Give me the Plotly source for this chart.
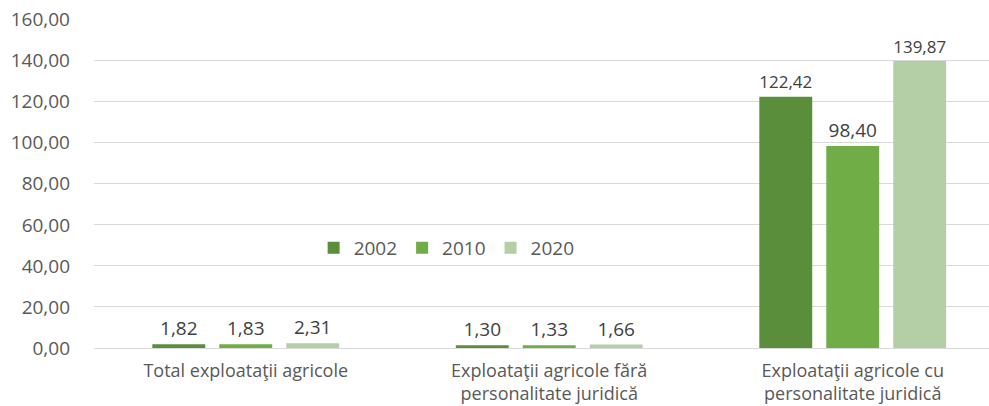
import plotly.graph_objects as go

categories = ["Total exploataţii agricole",
              "Exploataţii agricole fără<br>personalitate juridică",
              "Exploataţii agricole cu<br>personalitate juridică"]
series_names = ["2002", "2010", "2020"]
values_2002 = [1.82, 1.30, 122.42]
values_2010 = [1.83, 1.33, 98.40]
values_2020 = [2.31, 1.66, 139.87]
tick_values = [0, 20, 40, 60, 80, 100, 120, 140, 160]
colors = ["#5B8E3A", "#70AD47", "#B4CFA6"]

FONT = "Open Sans"
FS = 19
fig = go.Figure()
for name, vals, col in zip(series_names, [values_2002, values_2010, values_2020], colors):
    fig.add_trace(go.Bar(
        x=categories, y=vals, name=name, marker_color=col, marker_line_width=0,
        text=[f"{v:.2f}".replace(".", ",") for v in vals],
        textposition="outside", cliponaxis=False,
        textfont=dict(family=FONT, size=FS, color="#404040"),
    ))

fig.update_layout(
    width=989, height=406,
    margin=dict(l=94, r=0, t=19, b=58, autoexpand=False),
    paper_bgcolor="white", plot_bgcolor="white",
    barmode="group", bargap=0.338, bargroupgap=0.21,
    separators=",.",
    font=dict(family=FONT, size=FS, color="#595959"),
    showlegend=True,
    legend=dict(orientation="h", x=0.394, y=0.304, xanchor="center", yanchor="middle",
                font=dict(size=FS, color="#595959"), bgcolor="rgba(0,0,0,0)",
                itemwidth=30, tracegroupgap=0),
)
fig.update_xaxes(range=[-0.5, 2.449], showline=False, ticks="", showgrid=False,
                 ticklabelstandoff=10, automargin=False,
                 tickfont=dict(size=18, color="#595959"))
fig.update_yaxes(range=[0, 160.3], tickmode="array", tickvals=tick_values,
                 tickformat=".2f", showgrid=True, automargin=False,
                 ticklabeloverflow="allow",
                 gridcolor="#D9D9D9", gridwidth=1, zeroline=True, zerolinecolor="#D9D9D9",
                 zerolinewidth=1, showline=False, ticks="", ticklen=0,
                 ticklabelstandoff=23,
                 tickfont=dict(size=FS, color="#595959"))

fig.write_html("out.html", config={"displayModeBar": False},
               post_script="document.body.style.margin='0';document.body.style.overflow='hidden';")
